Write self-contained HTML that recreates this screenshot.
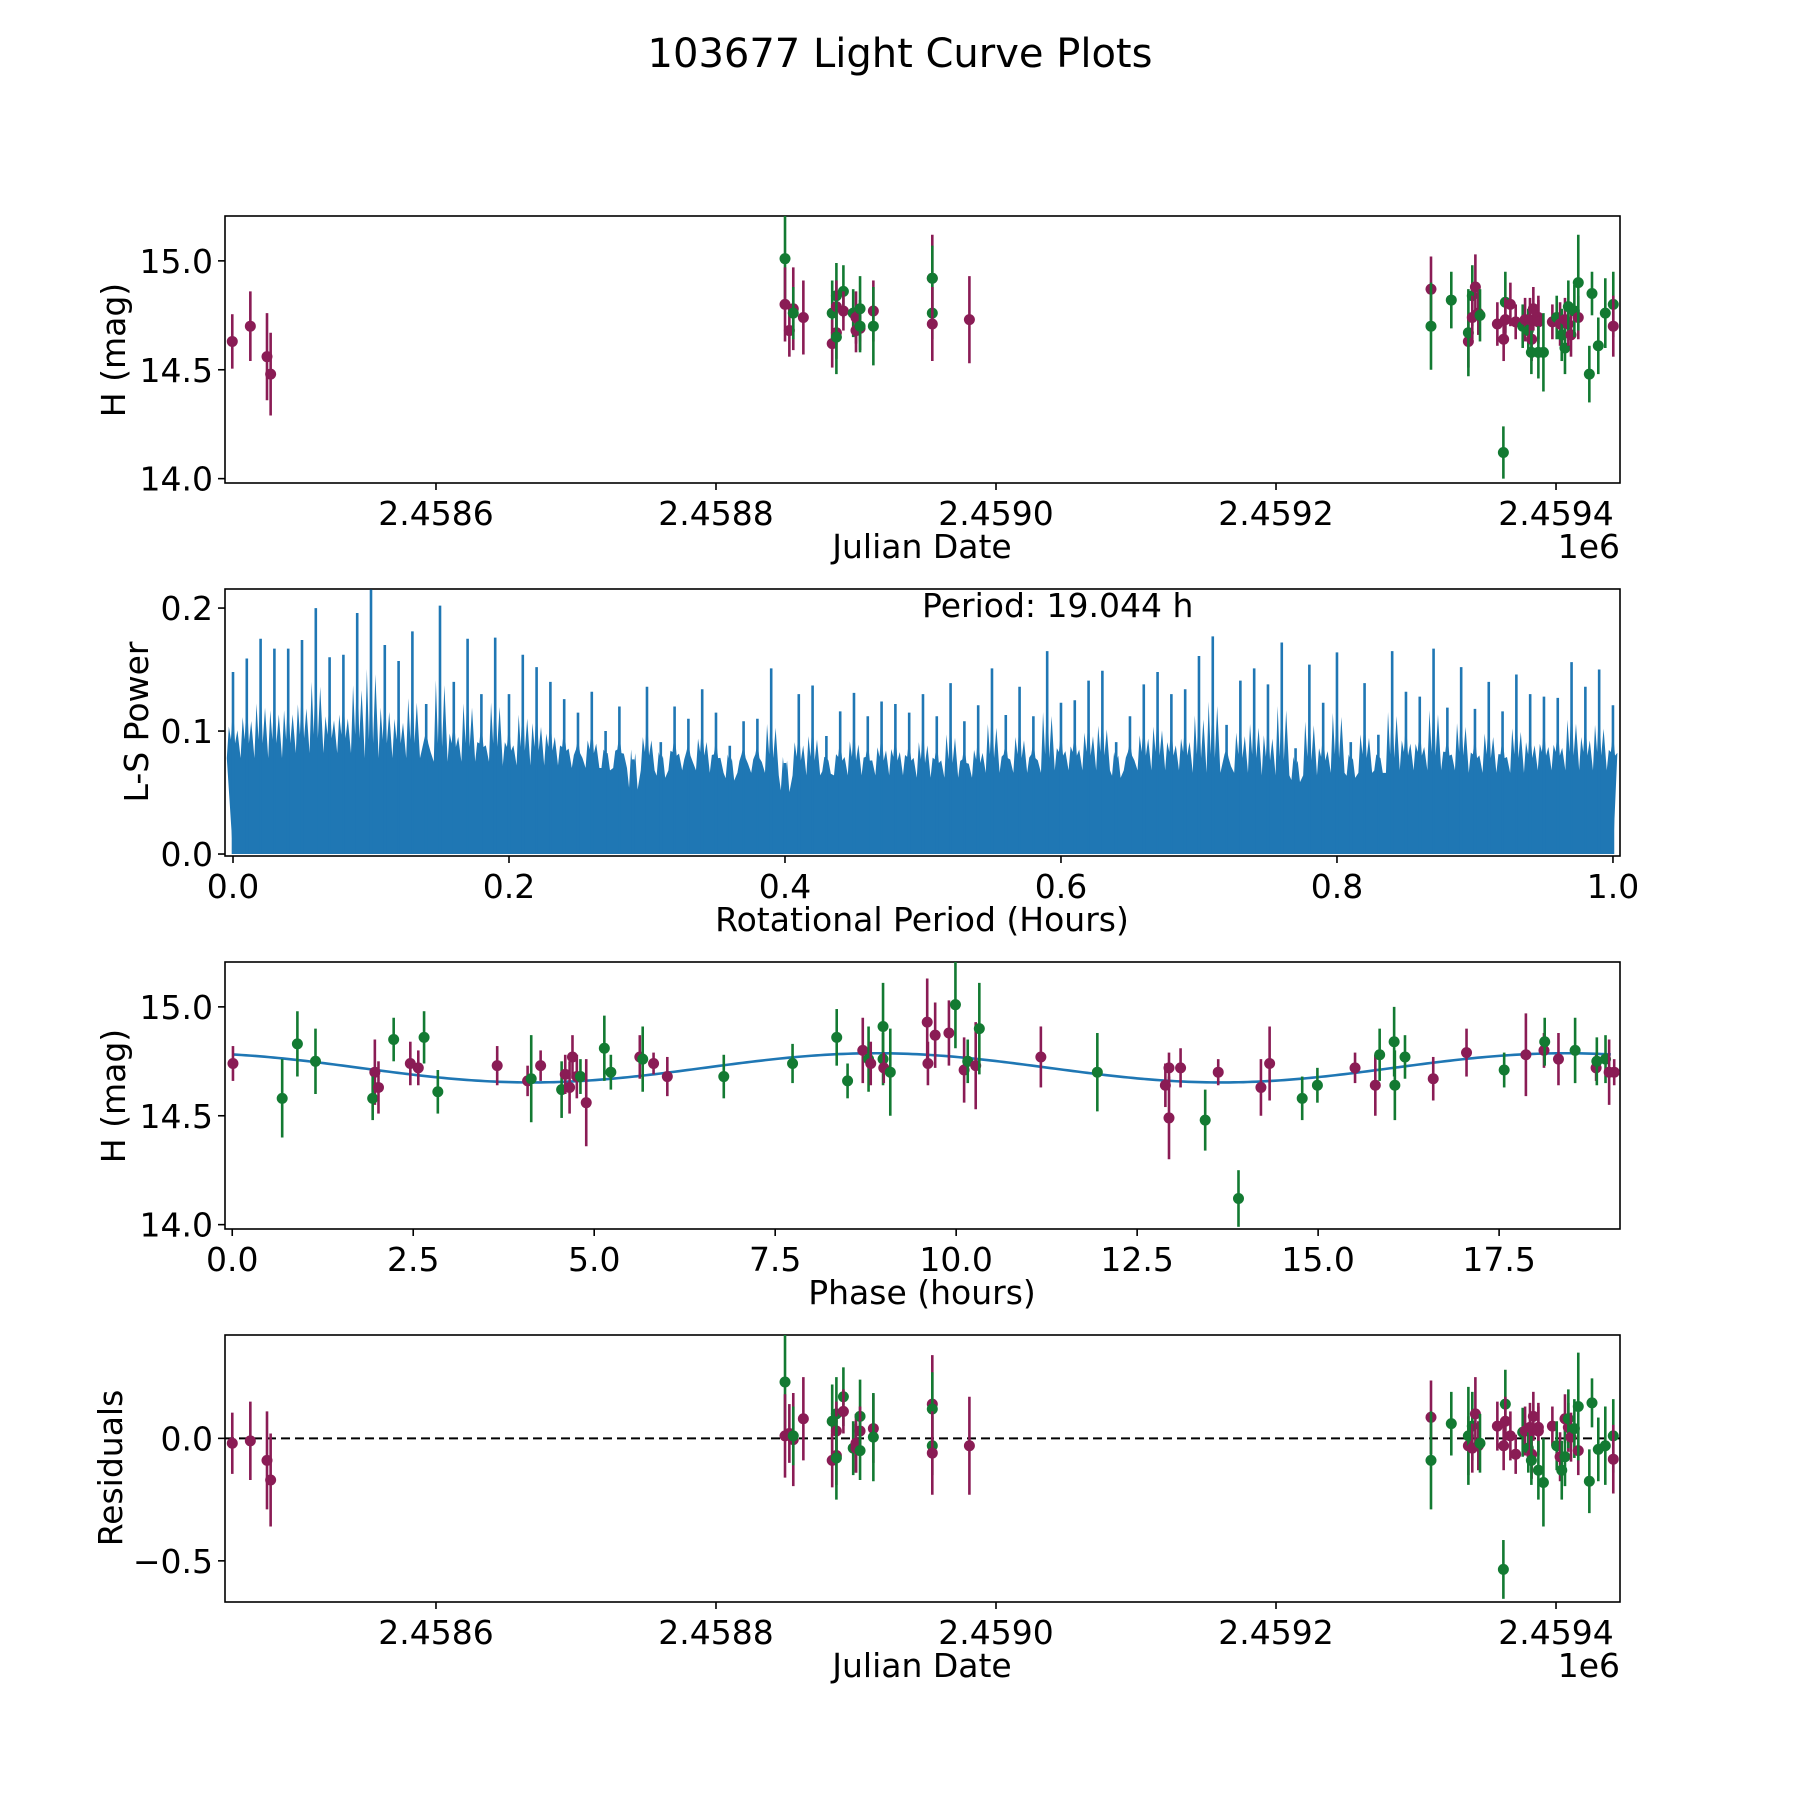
<!DOCTYPE html>
<html><head><meta charset="utf-8"><title>103677 Light Curve Plots</title>
<style>html,body{margin:0;padding:0;background:#fff}svg{display:block}text{font-family:"DejaVu Sans","Liberation Sans",sans-serif;fill:#000}</style>
</head><body>
<svg id="fig" width="1800" height="1800" viewBox="0 0 1800 1800" xmlns="http://www.w3.org/2000/svg">
<rect x="0" y="0" width="1800" height="1800" fill="#fff"/>
<text x="900" y="67" font-size="40" text-anchor="middle">103677 Light Curve Plots</text>
</svg>
<script>
// ---- Light curve data (JD - 2458000) ----
const jdOffset = [454.5,467.4,479.3,481.9,
849.3,849.3,852.4,855.2,855.2,862.4,883,883,886,886,886,886,891,891,898,900,900,902.9,902.9,902.9,912.4,912.4,954.5,954.5,954.5,954.5,981,
1310.7,1310.7,1325.2,1337.4,1337.4,1340.2,1342.4,1340.2,1344.5,1345.7,1358.1,1362.6,1363.8,1363.8,1367.4,1362.4,1371.2,1376.2,1377.9,1380.2,1381.4,1383.8,1382.6,1382.4,1387.4,1387.4,1387.4,1391,1397.4,1400.5,1402.9,1404.1,1406.4,1406.4,1408.8,1408.8,1410.7,1413.1,1415.9,1415.9,1423.8,1425.7,1430.2,1435.2,1440.9,1440.9];
const magH = [14.63,14.70,14.56,14.48,
15.01,14.80,14.68,14.78,14.76,14.74,14.76,14.62,14.84,14.79,14.67,14.65,14.86,14.77,14.76,14.74,14.68,14.78,14.69,14.70,14.77,14.70,14.92,14.92,14.76,14.71,14.73,
14.87,14.70,14.82,14.63,14.67,14.84,14.88,14.74,14.76,14.75,14.71,14.64,14.81,14.73,14.80,14.12,14.72,14.70,14.73,14.68,14.73,14.78,14.64,14.58,14.74,14.72,14.58,14.58,14.72,14.74,14.71,14.66,14.73,14.60,14.71,14.79,14.66,14.77,14.74,14.90,14.48,14.85,14.61,14.76,14.80,14.70];
const residual = [-0.02,-0.01,-0.09,-0.17,
0.23,0.01,0.02,-0.005,0.01,0.08,0.07,-0.09,0.10,0.03,-0.07,-0.08,0.17,0.11,-0.04,-0.02,-0.04,0.09,0.03,-0.05,0.04,0.005,0.14,0.12,-0.03,-0.06,-0.03,
0.086,-0.09,0.06,-0.03,0.01,0.05,0.10,-0.04,-0.03,-0.02,0.05,-0.03,0.14,0.07,0.01,-0.535,-0.065,0.025,0.03,-0.04,0.045,0.09,-0.065,-0.09,0.045,0.03,-0.13,-0.18,0.05,-0.03,-0.075,-0.13,0.08,-0.075,0.045,0.08,0.005,0.04,-0.05,0.13,-0.175,0.145,-0.045,-0.03,0.01,-0.085];
const magErr = [0.125,0.16,0.2,0.19,
0.2,0.17,0.12,0.19,0.12,0.17,0.15,0.11,0.15,0.12,0.12,0.17,0.12,0.09,0.11,0.12,0.1,0.15,0.1,0.12,0.14,0.18,0.2,0.15,0.12,0.17,0.2,
0.15,0.2,0.13,0.12,0.2,0.14,0.15,0.1,0.1,0.12,0.1,0.1,0.14,0.1,0.1,0.12,0.08,0.1,0.1,0.1,0.1,0.1,0.1,0.1,0.1,0.1,0.12,0.18,0.08,0.1,0.1,0.12,0.1,0.12,0.1,0.12,0.1,0.12,0.1,0.22,0.13,0.1,0.13,0.16,0.15,0.14];
const band = ['r','r','r','r',
'g','r','r','r','g','r','g','r','g','r','r','g','g','r','g','r','r','g','r','g','r','g','r','g','g','r','r',
'r','g','g','r','g','g','r','r','r','g','r','r','g','r','r','g','r','g','r','g','r','r','r','g','r','r','g','g','r','g','r','g','r','g','r','g','r','g','r','g','g','g','g','g','g','r'];

// ---- Phase-folded data ----
const phaseHours = [0.01,0.69,0.90,1.15,1.97,1.94,2.02,2.23,2.46,2.57,2.65,2.84,3.66,4.08,4.13,4.26,4.55,4.60,4.66,4.70,4.76,4.81,4.89,5.14,5.23,5.63,5.67,5.82,6.01,6.79,7.74,8.35,8.50,8.71,8.79,8.82,8.99,8.99,9.00,9.09,9.60,9.61,9.71,9.90,9.99,10.11,10.16,10.27,10.32,11.17,11.95,12.89,12.94,12.94,13.10,13.44,13.62,13.90,14.21,14.33,14.78,14.99,15.51,15.79,15.85,16.05,16.06,16.20,16.59,17.05,17.57,17.87,18.12,18.13,18.32,18.55,18.84,18.85,18.97,19.02,19.09];
const phaseMag = [14.74,14.58,14.83,14.75,14.70,14.58,14.63,14.85,14.74,14.72,14.86,14.61,14.73,14.66,14.67,14.73,14.62,14.69,14.63,14.77,14.68,14.68,14.56,14.81,14.70,14.77,14.76,14.74,14.68,14.68,14.74,14.86,14.66,14.80,14.76,14.74,14.91,14.76,14.72,14.70,14.93,14.74,14.87,14.88,15.01,14.71,14.75,14.73,14.90,14.77,14.70,14.64,14.72,14.49,14.72,14.48,14.70,14.12,14.63,14.74,14.58,14.64,14.72,14.64,14.78,14.84,14.64,14.77,14.67,14.79,14.71,14.78,14.80,14.84,14.76,14.80,14.72,14.75,14.76,14.70,14.70];
const phaseErr = [0.08,0.18,0.15,0.15,0.15,0.1,0.12,0.1,0.1,0.08,0.12,0.1,0.09,0.07,0.2,0.07,0.13,0.09,0.12,0.1,0.1,0.08,0.2,0.15,0.08,0.1,0.15,0.05,0.09,0.1,0.09,0.13,0.08,0.15,0.15,0.1,0.2,0.12,0.07,0.2,0.2,0.1,0.15,0.15,0.2,0.15,0.1,0.2,0.21,0.14,0.18,0.1,0.07,0.19,0.09,0.14,0.06,0.13,0.13,0.17,0.1,0.08,0.07,0.14,0.12,0.16,0.16,0.1,0.1,0.11,0.08,0.19,0.08,0.11,0.12,0.15,0.06,0.11,0.11,0.15,0.06];
const phaseBand = ['r','g','g','g','r','g','r','g','r','r','g','g','r','r','g','r','g','r','r','r','r','g','r','g','g','r','g','r','r','g','g','g','g','r','g','r','g','g','r','g','r','r','r','r','g','r','g','r','g','r','g','r','r','r','r','g','r','g','r','r','g','g','r','r','g','g','g','g','r','r','g','r','r','g','r','g','r','g','g','r','r'];
const periodHours = 19.044;
const modelMean = 14.72;
const modelAmp = 0.067;
const modelPeakPhase = 8.9;

// ---- Periodogram (peak power per 0.01 h bin, trough level per 0.05 h) ----
const lsPeaks = [0.148,0.159,0.175,0.167,0.167,0.174,0.2,0.16,0.162,0.196,0.215,0.17,0.157,0.181,0.122,0.202,0.14,0.175,0.13,0.176,0.13,0.162,0.152,0.14,0.126,0.115,0.132,0.1,0.12,0.077,0.136,0.091,0.12,0.11,0.134,0.115,0.088,0.108,0.11,0.151,0.074,0.13,0.137,0.096,0.116,0.131,0.112,0.124,0.122,0.115,0.13,0.112,0.139,0.108,0.121,0.151,0.113,0.136,0.112,0.165,0.123,0.125,0.141,0.149,0.091,0.112,0.138,0.148,0.13,0.134,0.161,0.177,0.105,0.141,0.151,0.138,0.172,0.086,0.154,0.123,0.164,0.091,0.139,0.097,0.165,0.132,0.128,0.167,0.119,0.152,0.118,0.14,0.116,0.146,0.13,0.128,0.127,0.156,0.136,0.15,0.121];
const lsTroughs = [0.078,0.082,0.078,0.075,0.072,0.07,0.068,0.066,0.064,0.064,0.062,0.066,0.068,0.068,0.066,0.064,0.066,0.068,0.066,0.068,0.068];
const lsPeriodTicks = [0.0,0.2,0.4,0.6,0.8,1.0];
const lsPowerTicks = [0.0,0.1,0.2];
const jdTicks = [2458600,2458800,2459000,2459200,2459400];
const jdTickLabels = ['2.4586','2.4588','2.4590','2.4592','2.4594'];
const magTicks = [14.0,14.5,15.0];
const phaseTicks = [0,2.5,5,7.5,10,12.5,15,17.5];
const resTicks = [0.0,-0.5];

const NS='http://www.w3.org/2000/svg';
const svg=document.getElementById('fig');
const COL={r:'#8a1c55',g:'#137a32'};
const L=225,R=1620;
const panels={top:[216,483],ls:[589,856],ph:[962,1229],res:[1335,1602]};
const FS=33;

function mk(tag,attrs,parent){const e=document.createElementNS(NS,tag);for(const k in attrs)e.setAttribute(k,attrs[k]);(parent||svg).appendChild(e);return e;}
function lin(d0,d1,r0,r1){return v=>r0+(v-d0)*(r1-r0)/(d1-d0);}

const xJD=lin(449.3,1445.7,L,R);
const yMagTop=lin(13.98,15.206,panels.top[1],panels.top[0]);
const yMagPh=lin(13.98,15.206,panels.ph[1],panels.ph[0]);
const xPh=lin(-0.1,19.17,L,R);
const xLS=lin(-0.0058,1.0051,L,R);
const yLS=lin(-0.0016,0.2155,panels.ls[1],panels.ls[0]);
const yRes=lin(-0.668,0.422,panels.res[1],panels.res[0]);

function frame(name,p){
  const g=mk('g',{});
  
  
  const r=mk('rect',{x:L,y:p[0],width:R-L,height:p[1]-p[0],fill:'none',stroke:'#000','stroke-width':1.6},g);
  
  
  return g;
}
function xtick(g,x,yb,label,name){
  const t=mk('line',{x1:x,y1:yb,x2:x,y2:yb+7,stroke:'#000','stroke-width':1.6},g);
  
  
  const tx=mk('text',{x:x,y:yb+42,'font-size':FS,'text-anchor':'middle'},g);
  tx.textContent=label;
  
  
}
function ytick(g,y,label,name){
  const t=mk('line',{x1:L-7,y1:y,x2:L,y2:y,stroke:'#000','stroke-width':1.6},g);
  
  
  const tx=mk('text',{x:L-12,y:y+12,'font-size':FS,'text-anchor':'end'},g);
  tx.textContent=label;
  
  
}
function label(g,x,y,txt,name,rot){
  const t=mk('text',{x:x,y:y,'font-size':FS,'text-anchor':'middle'},g);
  if(rot)t.setAttribute('transform','rotate(-90 '+x+' '+y+')');
  t.textContent=txt;
  
  
}
function fmtMinus(v,d){const s=v.toFixed(d);return s.replace('-','\u2212');}
function errpt(g,x,y,ylo,yhi,c,name,clip){
  const e=mk('line',{x1:x,y1:ylo,x2:x,y2:yhi,stroke:c,'stroke-width':2.6,'clip-path':clip},g);
  
  
  const d=mk('circle',{cx:x,cy:y,r:5.5,fill:c,'clip-path':clip},g);
  
  
}
function clip(id,p){
  const cp=mk('clipPath',{id:id});
  mk('rect',{x:L,y:p[0],width:R-L,height:p[1]-p[0]},cp);
  return 'url(#'+id+')';
}

// ---- Panel 1: light curve ----
(function(){
  const g=frame('light-curve-panel',panels.top);const c=clip('c1',panels.top);
  for(let i=0;i<jdOffset.length;i++){
    const x=xJD(jdOffset[i]);
    errpt(g,x,yMagTop(magH[i]),yMagTop(magH[i]-magErr[i]),yMagTop(magH[i]+magErr[i]),COL[band[i]],'light-curve-point',c);
  }
  jdTicks.forEach((t,i)=>xtick(g,xJD(t-2458000),panels.top[1],jdTickLabels[i],'jd-x'));
  magTicks.forEach(t=>ytick(g,yMagTop(t),t.toFixed(1),'mag-y'));
  label(g,922,558,'Julian Date','x-axis-title-julian-date');
  const o=mk('text',{x:R,y:558,'font-size':FS,'text-anchor':'end'},g);o.textContent='1e6';
  
  
  label(g,125,350,'H (mag)','y-axis-title-h-mag',true);
})();

// ---- Panel 2: periodogram ----
(function(){
  const g=frame('periodogram-panel',panels.ls);const c=clip('c2',panels.ls);
  const n=lsPeaks.length;const step=1/(n-1);
  let pts=[[xLS(0),yLS(0)]];
  for(let i=0;i<n;i++){
    const p=i*step;const tr=lsTroughs[Math.floor(i/5)];
    pts.push([xLS(p-step*0.45),yLS(tr)]);
    pts.push([xLS(p-step*0.3),yLS(lsPeaks[i]*0.7)]);
    pts.push([xLS(p-step*0.15),yLS(tr+0.015)]);
    pts.push([xLS(p),yLS(lsPeaks[i]*0.82)]);
    pts.push([xLS(p+step*0.15),yLS(tr+0.012)]);
    pts.push([xLS(p+step*0.32),yLS(lsPeaks[i]*0.68)]);
  }
  pts.push([xLS(1),yLS(0)]);
  const body=mk('polygon',{points:pts.map(q=>q.join(',')).join(' '),fill:'#1f77b4','clip-path':c},g);
  
  
  for(let i=0;i<n;i++){
    const x=xLS(i*step);
    const s=mk('line',{x1:x,y1:yLS(0),x2:x,y2:yLS(lsPeaks[i]),stroke:'#1f77b4','stroke-width':2.6,'clip-path':c},g);
    
    
  }
  lsPeriodTicks.forEach(t=>xtick(g,xLS(t),panels.ls[1],t.toFixed(1),'period-x'));
  lsPowerTicks.forEach(t=>ytick(g,yLS(t),t.toFixed(1),'power-y'));
  label(g,922,931,'Rotational Period (Hours)','x-axis-title-rotational-period');
  label(g,148,722,'L-S Power','y-axis-title-ls-power',true);
  const a=mk('text',{x:922,y:617,'font-size':FS,'text-anchor':'start'},g);a.textContent='Period: '+periodHours.toFixed(3)+' h';
  
  
})();

// ---- Panel 3: phase folded ----
(function(){
  const g=frame('phase-folded-panel',panels.ph);const c=clip('c3',panels.ph);
  const pts=[];
  for(let k=0;k<=300;k++){const ph=periodHours*k/300;
    const m=modelMean+modelAmp*Math.cos(4*Math.PI*(ph-modelPeakPhase)/periodHours);
    pts.push(xPh(ph)+','+yMagPh(m));}
  const mdl=mk('polyline',{points:pts.join(' '),fill:'none',stroke:'#1f77b4','stroke-width':2.6,'clip-path':c},g);
  
  
  for(let i=0;i<phaseHours.length;i++){
    const x=xPh(phaseHours[i]);
    errpt(g,x,yMagPh(phaseMag[i]),yMagPh(phaseMag[i]-phaseErr[i]),yMagPh(phaseMag[i]+phaseErr[i]),COL[phaseBand[i]],'phase-point',c);
  }
  phaseTicks.forEach(t=>xtick(g,xPh(t),panels.ph[1],t.toFixed(1),'phase-x'));
  magTicks.forEach(t=>ytick(g,yMagPh(t),t.toFixed(1),'phase-mag-y'));
  label(g,922,1304,'Phase (hours)','x-axis-title-phase');
  label(g,125,1096,'H (mag)','y-axis-title-phase-h-mag',true);
})();

// ---- Panel 4: residuals ----
(function(){
  const g=frame('residuals-panel',panels.res);const c=clip('c4',panels.res);
  const z=mk('line',{x1:L,y1:yRes(0),x2:R,y2:yRes(0),stroke:'#000','stroke-width':2,'stroke-dasharray':'9,5'},g);
  
  
  for(let i=0;i<jdOffset.length;i++){
    const x=xJD(jdOffset[i]);
    errpt(g,x,yRes(residual[i]),yRes(residual[i]-magErr[i]),yRes(residual[i]+magErr[i]),COL[band[i]],'residual-point',c);
  }
  jdTicks.forEach((t,i)=>xtick(g,xJD(t-2458000),panels.res[1],jdTickLabels[i],'res-jd-x'));
  resTicks.forEach(t=>ytick(g,yRes(t),fmtMinus(t,1),'res-y'));
  label(g,922,1677,'Julian Date','x-axis-title-res-julian-date');
  const o=mk('text',{x:R,y:1677,'font-size':FS,'text-anchor':'end'},g);o.textContent='1e6';
  
  
  label(g,122,1468,'Residuals','y-axis-title-residuals',true);
})();
</script>
</body></html>
